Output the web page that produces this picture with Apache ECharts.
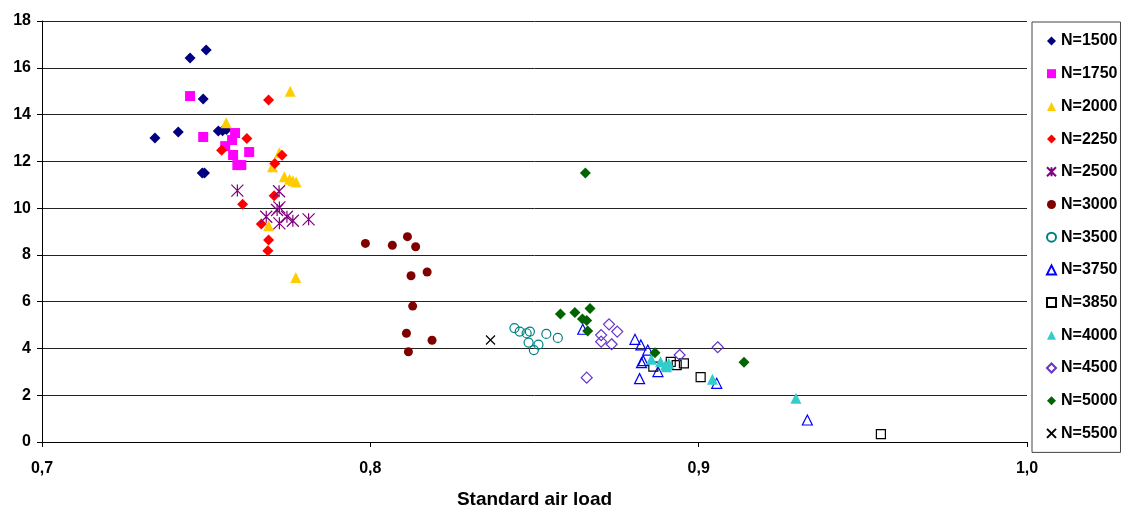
<!DOCTYPE html>
<html>
<head>
<meta charset="utf-8">
<script src="https://cdn.jsdelivr.net/npm/echarts@6/dist/echarts.min.js"></script>
<style>
  html, body { margin: 0; padding: 0; background: #fff; }
  #main { width: 1123px; height: 512px; }
</style>
</head>
<body>
<div id="main"></div>
<script>
// data points [standard air load, value] per speed
var n1500 = [[0.7451, 16.42], [0.7500, 16.76], [0.7491, 14.66], [0.7344, 13.00], [0.7415, 13.25],
             [0.7537, 13.30], [0.7550, 13.31], [0.7562, 13.36], [0.7488, 11.50], [0.7495, 11.50]];
var n1750 = [[0.7451, 14.79], [0.7491, 13.04], [0.7588, 13.21], [0.7579, 12.91], [0.7558, 12.65],
             [0.7582, 12.27], [0.7631, 12.40], [0.7595, 11.84], [0.7607, 11.84]];
var n2000 = [[0.7756, 15.00], [0.7561, 13.65], [0.7723, 12.37], [0.7702, 11.77], [0.7738, 11.34],
             [0.7754, 11.23], [0.7764, 11.17], [0.7774, 11.12], [0.7690, 9.25], [0.7773, 7.03]];
var n2250 = [[0.7690, 14.62], [0.7624, 12.98], [0.7547, 12.47], [0.7731, 12.26], [0.7709, 11.91],
             [0.7707, 10.53], [0.7611, 10.16], [0.7668, 9.32], [0.7690, 8.64], [0.7688, 8.18]];
var n2500 = [[0.7595, 10.75], [0.7722, 10.72], [0.7723, 10.03], [0.7716, 9.92], [0.7683, 9.63],
             [0.7723, 9.35], [0.7746, 9.63], [0.7764, 9.46], [0.7812, 9.52]];
var n3000 = [[0.7985, 8.49], [0.8067, 8.41], [0.8113, 8.78], [0.8138, 8.35], [0.8124, 7.11],
             [0.8173, 7.27], [0.8129, 5.81], [0.8110, 4.65], [0.8188, 4.35], [0.8116, 3.86]];
var n3500 = [[0.8439, 4.87], [0.8455, 4.72], [0.8476, 4.65], [0.8486, 4.72], [0.8482, 4.25],
             [0.8498, 3.93], [0.8512, 4.16], [0.8536, 4.62], [0.8571, 4.45]];
var n3750 = [[0.8647, 4.82], [0.8806, 4.39], [0.8824, 4.15], [0.8845, 3.93], [0.8831, 3.48],
             [0.8826, 3.39], [0.8820, 2.71], [0.8876, 3.01], [0.9055, 2.51], [0.9331, 0.94]];
var n3850 = [[0.8862, 3.22], [0.8915, 3.43], [0.8933, 3.29], [0.8955, 3.36], [0.9006, 2.77], [0.9555, 0.34]];
var n4000 = [[0.8856, 3.54], [0.8884, 3.43], [0.8899, 3.29], [0.8909, 3.36], [0.8902, 3.22],
             [0.9042, 2.68], [0.9296, 1.87]];
var n4500 = [[0.8727, 5.03], [0.8752, 4.72], [0.8703, 4.57], [0.8703, 4.29], [0.8735, 4.18],
             [0.8659, 2.75], [0.8942, 3.72], [0.9058, 4.05]];
var n5000 = [[0.8655, 11.50], [0.8579, 5.47], [0.8623, 5.54], [0.8669, 5.71], [0.8646, 5.26],
             [0.8659, 5.19], [0.8662, 4.75], [0.8867, 3.82], [0.9138, 3.41]];
var n5500 = [[0.8366, 4.36]];

var xTicks = ['0,7', '0,8', '0,9', '1,0'];

var asterisk = 'path://M0,0L10,10M10,0L0,10M5,0L5,10';
var cross = 'path://M0,0L10,10M10,0L0,10';

function filled(name, data, symbol, color, size) {
    return {
        name: name, type: 'scatter', data: data, symbol: symbol, symbolSize: size,
        itemStyle: { color: color, borderWidth: 0, opacity: 1 }
    };
}
function open(name, data, symbol, color, size) {
    return {
        name: name, type: 'scatter', data: data, symbol: symbol, symbolSize: size,
        itemStyle: { color: 'rgba(255,255,255,0)', borderColor: color, borderWidth: 1.2, opacity: 1 }
    };
}

var series = [
    filled('N=1500', n1500, 'diamond', '#000080', 11),
    filled('N=1750', n1750, 'rect', '#ff00ff', 10),
    filled('N=2000', n2000, 'triangle', '#ffcc00', 11),
    filled('N=2250', n2250, 'diamond', '#ff0000', 11),
    open('N=2500', n2500, asterisk, '#800080', 12),
    filled('N=3000', n3000, 'circle', '#800000', 9),
    open('N=3500', n3500, 'circle', '#008080', 9),
    open('N=3750', n3750, 'triangle', '#0000ff', 10),
    open('N=3850', n3850, 'rect', '#000000', 9),
    filled('N=4000', n4000, 'triangle', '#33cccc', 11),
    open('N=4500', n4500, 'diamond', '#6633cc', 11),
    filled('N=5000', n5000, 'diamond', '#006400', 11),
    open('N=5500', n5500, cross, '#000000', 9)
];

var myChart = echarts.init(document.getElementById('main'));
myChart.setOption({
    animation: false,
    textStyle: { fontFamily: 'Liberation Sans, Arial, sans-serif' },
    grid: { left: 42, right: 96, top: 21, bottom: 70, outerBoundsMode: 'none' },
    legend: {
        orient: 'vertical',
        left: 1032,
        top: 22,
        padding: [11, 3, 11, 14],
        itemGap: 16.7,
        itemWidth: 9,
        itemHeight: 9,
        borderColor: '#444',
        borderWidth: 1,
        textStyle: { fontSize: 16, fontWeight: 'bold', color: '#000' },
        data: series.map(function (s) { return s.name; })
    },
    xAxis: {
        type: 'value',
        min: 0.7,
        max: 1.0,
        interval: 0.1,
        name: 'Standard air load',
        nameLocation: 'middle',
        nameGap: 48,
        nameTextStyle: { fontSize: 19, fontWeight: 'bold', color: '#000' },
        axisLine: { lineStyle: { color: '#000', width: 1 } },
        axisTick: { show: true, length: 5, lineStyle: { color: '#000' } },
        axisLabel: {
            fontSize: 16, fontWeight: 'bold', color: '#000', margin: 19,
            formatter: function (v) { return xTicks[Math.round((v - 0.7) * 10)]; }
        },
        splitLine: { show: false }
    },
    yAxis: {
        type: 'value',
        min: 0,
        max: 18,
        interval: 2,
        axisLine: { show: true, lineStyle: { color: '#000', width: 1 } },
        axisTick: { show: true, length: 5, lineStyle: { color: '#000' } },
        axisLabel: { fontSize: 16, fontWeight: 'bold', color: '#000', margin: 11 },
        splitLine: { show: true, lineStyle: { color: '#222', width: 1 } }
    },
    series: series
});
</script>
</body>
</html>
